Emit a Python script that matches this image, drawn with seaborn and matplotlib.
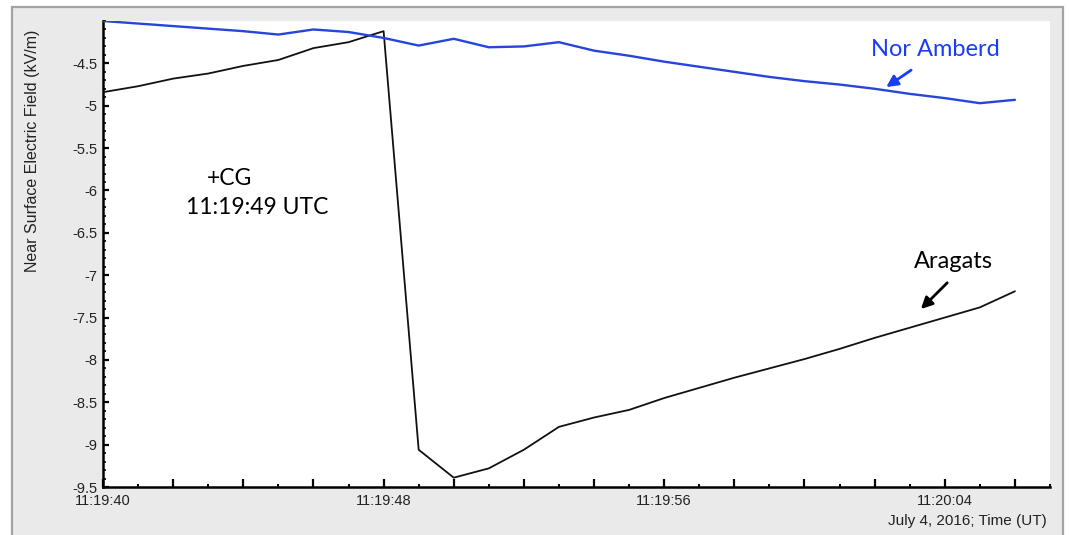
import matplotlib
matplotlib.use("Agg")
import matplotlib.pyplot as plt
from matplotlib.patches import Rectangle
from matplotlib.ticker import MultipleLocator, FuncFormatter
import pandas as pd
import seaborn as sns

# Seconds after 11:19:00 UTC, one sample per second
seconds = [40, 41, 42, 43, 44, 45, 46, 47, 48, 49, 50, 51, 52, 53,
           54, 55, 56, 57, 58, 59, 60, 61, 62, 63, 64, 65, 66]

# Near-surface electric field, kV/m
aragats = [-4.84, -4.77, -4.68, -4.62, -4.53, -4.46, -4.32, -4.25, -4.12,
           -9.06, -9.39, -9.28, -9.06, -8.79, -8.68, -8.59, -8.45, -8.33,
           -8.21, -8.10, -7.99, -7.87, -7.74, -7.62, -7.50, -7.38, -7.19]
nor_amberd = [-4.00, -4.03, -4.06, -4.09, -4.12, -4.16, -4.10, -4.13, -4.20,
              -4.29, -4.21, -4.31, -4.30, -4.25, -4.35, -4.41, -4.48, -4.54,
              -4.60, -4.66, -4.71, -4.75, -4.80, -4.86, -4.91, -4.97, -4.93]

stations = ["Aragats", "Nor Amberd"]
y_ticks = [-9.5, -9, -8.5, -8, -7.5, -7, -6.5, -6, -5.5, -5, -4.5]
labeled_seconds = [40, 48, 56, 64]

df = pd.DataFrame({
    "t": seconds * 2,
    "field": aragats + nor_amberd,
    "station": [stations[0]] * len(seconds) + [stations[1]] * len(seconds),
})

sns.set_style("white")
plt.rcParams["font.family"] = ["Liberation Sans", "DejaVu Sans"]

W, H = 1069, 535
fig = plt.figure(figsize=(W / 100, H / 100), dpi=100)
fig.patch.set_facecolor("white")

# grey panel behind the plotting area
panel = Rectangle((12 / W, -0.02), (1063 - 12) / W, (535 - 7) / H + 0.02,
                  transform=fig.transFigure, facecolor="#eaeaea",
                  edgecolor="#a3a3a3", linewidth=1.6, zorder=-1)
fig.patches.append(panel)

ax = fig.add_axes([103 / W, (535 - 487) / H, (1050 - 103) / W, (487 - 21) / H])
ax.set_facecolor("white")

colors = {"Aragats": "#111111", "Nor Amberd": "#2645dc"}
widths = {"Aragats": 1.3, "Nor Amberd": 1.7}
for st in stations:
    sns.lineplot(data=df[df["station"] == st], x="t", y="field",
                 color=colors[st], linewidth=widths[st], ax=ax,
                 legend=False, zorder=3)

ax.set_xlim(40, 67)
ax.set_ylim(-9.5, -4.0)

# axis styling
for side in ("top", "right"):
    ax.spines[side].set_visible(False)
for side in ("left", "bottom"):
    ax.spines[side].set_color("black")
    ax.spines[side].set_linewidth(1.8)

ax.set_yticks(y_ticks)
ax.yaxis.set_major_formatter(FuncFormatter(lambda v, p: f"{v:g}"))
ax.yaxis.set_minor_locator(MultipleLocator(0.1))
ax.xaxis.set_major_locator(MultipleLocator(2))
ax.xaxis.set_minor_locator(MultipleLocator(1))


def time_label(v, pos):
    s = int(round(v))
    if s in labeled_seconds:
        return f"11:{19 + s // 60}:{s % 60:02d}"
    return ""


ax.xaxis.set_major_formatter(FuncFormatter(time_label))
ax.tick_params(axis="both", which="both", direction="in", color="black",
               labelsize=10.5, labelcolor="#222222",
               bottom=True, left=True, top=False, right=False)
ax.tick_params(axis="x", which="major", length=5.5, width=1.6, pad=5)
ax.tick_params(axis="x", which="minor", length=2.5, width=1.4)
ax.tick_params(axis="y", which="major", length=4, width=1.6, pad=4)
ax.tick_params(axis="y", which="minor", length=2.5, width=1.2)
ax.set_xlabel("")
ax.set_ylabel("")

fig.text(33 / W, 1 - 151 / H, "Near Surface Electric Field (kV/m)",
         rotation=90, ha="center", va="center", fontsize=11.5, color="#222222")
fig.text(1047 / W, 1 - 521 / H, "July 4, 2016; Time (UT)",
         ha="right", va="center", fontsize=11, color="#222222")

# annotations
afont = ["Lato", "DejaVu Sans"]
blue_txt = "#1a3cf5"
ax.text(63.74, -4.41, "Nor Amberd", ha="center", va="baseline",
        fontsize=17, color=blue_txt, family=afont)
ax.annotate("", xy=(62.33, -4.78), xytext=(63.04, -4.58),
            arrowprops=dict(arrowstyle="-|>", color=blue_txt, lw=2,
                            mutation_scale=17, shrinkA=0, shrinkB=0))
ax.text(64.24, -6.91, "Aragats", ha="center", va="baseline",
        fontsize=17, color="black", family=afont)
ax.annotate("", xy=(63.32, -7.40), xytext=(64.07, -7.09),
            arrowprops=dict(arrowstyle="-|>", color="black", lw=2,
                            mutation_scale=17, shrinkA=0, shrinkB=0))
ax.text(43.62, -5.93, "+CG", ha="center", va="baseline",
        fontsize=16.5, color="black", family=afont)
ax.text(44.39, -6.28, "11:19:49 UTC", ha="center", va="baseline",
        fontsize=16.5, color="black", family=afont)

fig.savefig("out.png", dpi=100, facecolor=fig.get_facecolor())
